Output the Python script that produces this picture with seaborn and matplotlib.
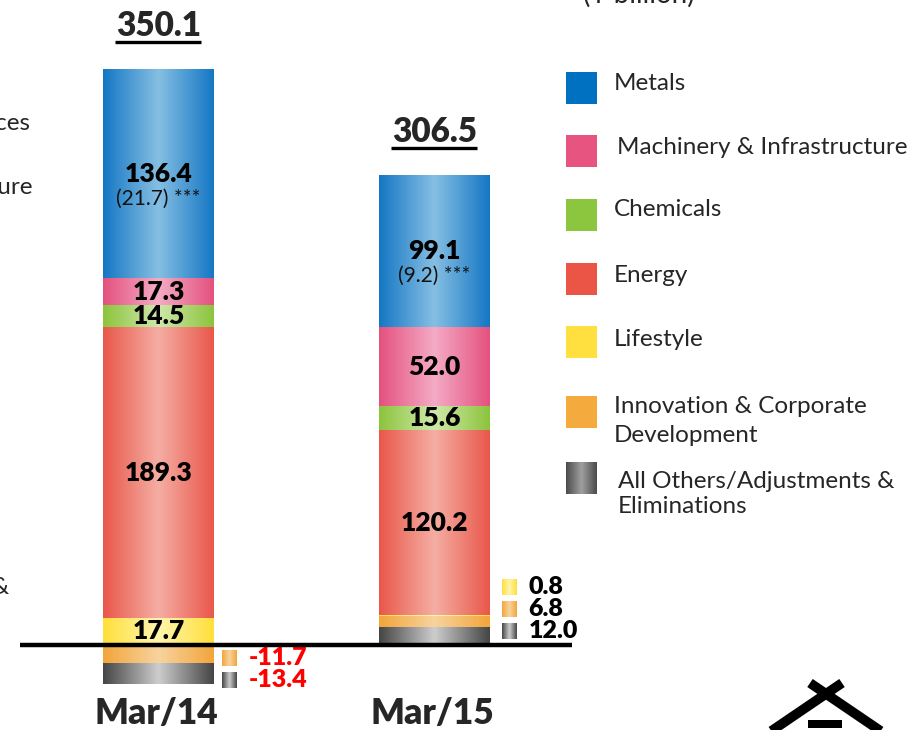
import numpy as np
import matplotlib
matplotlib.use("Agg")
import matplotlib.pyplot as plt
from matplotlib.colors import LinearSegmentedColormap
import seaborn as sns

# data (¥ billion)
periods = ["Mar/14", "Mar/15"]
segments = ["Metals", "Machinery & Infrastructure", "Chemicals", "Energy",
            "Lifestyle", "Innovation & Corporate\nDevelopment",
            "All Others/Adjustments &\nEliminations"]
metals = [136.4, 99.1]
machinery = [17.3, 52.0]
chemicals = [14.5, 15.6]
energy = [189.3, 120.2]
lifestyle = [17.7, 0.8]
innovation = [-11.7, 6.8]
others = [-13.4, 12.0]
totals = [350.1, 306.5]
metals_sub = [21.7, 9.2]

# gradient colours (edge, centre) and solid legend colours
grad_cols = [("#1577c4", "#86bfe3"), ("#e4517f", "#f4abc5"), ("#8cc43c", "#cfe8aa"),
             ("#e9574a", "#f5aea4"), ("#ffdf3a", "#fff5ae"), ("#f2a53a", "#f8d39e"),
             ("#454545", "#cdcdcd")]
solid_cols = ["#0070c0", "#e75480", "#8cc63f", "#ea5545", "#ffe03f", "#f4aa3c", None]

sns.set_theme(style="white")
plt.rcParams["font.family"] = ["Lato", "DejaVu Sans"]

fig = plt.figure(figsize=(9.19, 7.30), dpi=100)
ax = fig.add_axes([0, 0, 1, 1])

PX = 1.535  # pixels per ¥ billion


def dx(px):
    return (px - 158.5) / 276.0


def dy(py):
    return (645 - py) / PX


def grad_img(x0, x1, y0, y1, cols, clip=None, z=2):
    cmap = LinearSegmentedColormap.from_list("g", [cols[0], cols[1], cols[0]])
    g = np.linspace(0, 1, 256).reshape(1, -1)
    im = ax.imshow(g, extent=[x0, x1, y0, y1], cmap=cmap, aspect="auto",
                   interpolation="bicubic", zorder=z)
    if clip is not None:
        im.set_clip_path(clip)
    return im


# stacking order from the bottom up; negatives hang below zero in reverse order
stack = [(others, 6), (innovation, 5), (lifestyle, 4), (energy, 3),
         (chemicals, 2), (machinery, 1), (metals, 0)]
bottoms = {}
base = np.zeros(len(periods))
for vals, si in stack:
    v = np.array(vals)
    bottoms[si] = np.where(v >= 0, base, 0.0)
    base = base + np.where(v >= 0, v, 0)
pos_top = base.copy()
base = np.zeros(len(periods))
for vals, si in reversed(stack):
    v = np.array(vals)
    bottoms[si] = np.where(v < 0, base, bottoms[si])
    base = base + np.where(v < 0, v, 0)

seg_pos = {}
for vals, si in stack:
    vals = np.array(vals)
    n0 = len(ax.patches)
    sns.barplot(x=periods, y=vals, ax=ax, color=grad_cols[si][0], saturation=1,
                width=0.402, errorbar=None, linewidth=0, zorder=1)
    for p, b in zip(ax.patches[n0:], bottoms[si]):
        p.set_y(b)
        grad_img(p.get_x(), p.get_x() + p.get_width(), b, b + p.get_height(),
                 grad_cols[si], clip=p)
    seg_pos[si] = bottoms[si] + vals / 2

num_kw = dict(ha="center", va="center", fontsize=19, fontweight="heavy", color="black", zorder=5)

# labels inside the bars
for i in range(len(periods)):
    ax.text(i, seg_pos[0][i], f"{metals[i]:.1f}", **num_kw)
    ax.text(i, seg_pos[0][i] - 25 / PX, f"({metals_sub[i]:.1f}) ***", ha="center", va="center",
            fontsize=15, color="#111111", zorder=5)
    for si, vals in [(1, machinery), (2, chemicals), (3, energy)]:
        ax.text(i, seg_pos[si][i], f"{vals[i]:.1f}", **num_kw)
ax.text(0, seg_pos[4][0], f"{lifestyle[0]:.1f}", **num_kw)

# totals, underlined
for i in range(len(periods)):
    ty = pos_top[i] + 43 / PX
    ax.text(i, ty, f"{totals[i]:.1f}", ha="center", va="center", fontsize=24,
            fontweight="heavy", zorder=5)
    ax.plot([i - 44 / 276, i + 42 / 276], [ty - 16 / PX, ty - 16 / PX], color="black",
            lw=2.4, solid_capstyle="butt", zorder=5)

# small keyed labels outside the bars
small = [(0, [(5, innovation[0]), (6, others[0])], [658, 680], "#ff0000", 63),
         (1, [(4, lifestyle[1]), (5, innovation[1]), (6, others[1])], [587, 609, 631], "black", 67)]
for i, items, ys, col, off in small:
    for (si, v), py in zip(items, ys):
        x0 = i + off / 276
        grad_img(x0, x0 + 15 / 276, dy(py + 8), dy(py - 8), grad_cols[si], z=4)
        ax.text(x0 + 27 / 276, dy(py), f"{v:.1f}", ha="left", va="center", fontsize=18,
                fontweight="heavy", color=col, zorder=5)

# baseline
ax.plot([dx(20), dx(572)], [0, 0], color="black", lw=3.2, solid_capstyle="butt", zorder=6)

# category labels
for i, lab in enumerate(periods):
    ax.text(i - 2 / 276, dy(713), lab, ha="center", va="center", fontsize=25.5,
            fontweight="heavy")

# legend on the right
leg_rows = [88, 151, 215, 279, 342, 412, 478]
txt_rows = [(614, 83), (617, 148), (614, 209), (614, 276), (614, 339), (614, 421), (618, 494)]
spacing = [1.3, 1.3, 1.3, 1.3, 1.3, 1.5, 1.25]
for si, (ry, (tx, ty)) in enumerate(zip(leg_rows, txt_rows)):
    if solid_cols[si] is not None:
        ax.add_patch(plt.Rectangle((dx(566), dy(ry + 16)), 31 / 276, 32 / PX,
                                   color=solid_cols[si], lw=0, zorder=3))
    else:
        grad_img(dx(566), dx(597), dy(ry + 16), dy(ry - 16),
                 ("#4a4a4a", "#a0a0a0"), z=3)
    ax.text(dx(tx), dy(ty), segments[si], ha="left", va="center", fontsize=17.5,
            linespacing=spacing[si], zorder=5)

# cut-off text at the edges of the slide
ax.text(dx(30), dy(124), "Mineral & Metal Resources", ha="right", va="center", fontsize=17.5)
ax.text(dx(32), dy(187), "Machinery & Infrastructure", ha="right", va="center", fontsize=17.5)
ax.text(dx(9), dy(588), "Eliminations &", ha="right", va="center", fontsize=17.5)
ax.text(dx(583), dy(3), "(¥ billion)", ha="left", va="baseline", fontsize=20)

# logo fragment bottom right
ax.plot([dx(842), dx(764)], [dy(683), dy(736)], color="black", lw=7, solid_capstyle="butt")
ax.plot([dx(810), dx(888)], [dy(683), dy(736)], color="black", lw=7, solid_capstyle="butt")
ax.add_patch(plt.Rectangle((dx(808), dy(728)), 34 / 276, 8 / PX, color="black", lw=0))

ax.set_xlim(dx(0), dx(919))
ax.set_ylim(dy(730), dy(0))
ax.axis("off")

fig.savefig("out.png", dpi=100)
